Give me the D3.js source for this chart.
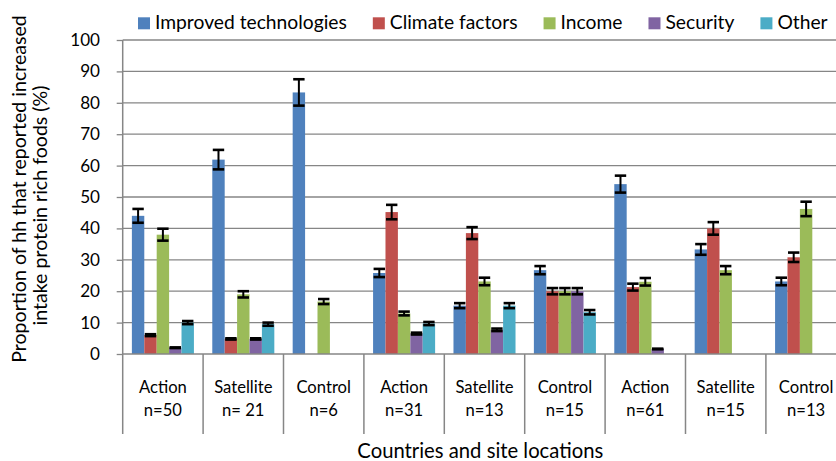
<!DOCTYPE html>
<html>
<head>
<meta charset="utf-8">
<script src="https://cdn.jsdelivr.net/npm/d3@7"></script>
<style>
  html, body { margin: 0; padding: 0; background: #fff; }
  svg { display: block; font-family: Lato, "Open Sans", sans-serif; }
</style>
</head>
<body>
<script>
// ---------------- DATA ----------------
const siteLabels   = ["Action", "Satellite", "Control", "Action", "Satellite", "Control", "Action", "Satellite", "Control"];
const sampleLabels = ["n=50", "n= 21", "n=6", "n=31", "n=13", "n=15", "n=61", "n=15", "n=13"];
const seriesNames  = ["Improved technologies", "Climate factors", "Income", "Security", "Other"];
const seriesColors = ["#4F81BD", "#C0504D", "#9BBB59", "#8064A2", "#4BACC6"];

const improvedValues = [44.0, 61.9, 83.3, 25.8, 15.4, 26.7, 54.1, 33.3, 23.1];
const climateValues  = [6.0, 4.8, null, 45.2, 38.5, 20.0, 21.3, 40.0, 30.8];
const incomeValues   = [38.0, 19.0, 16.7, 12.9, 23.1, 20.0, 23.0, 26.7, 46.2];
const securityValues = [2.0, 4.8, null, 6.5, 7.7, 20.0, 1.6, null, null];
const otherValues    = [10.0, 9.5, null, 9.7, 15.4, 13.3, null, null, null];

const improvedErrors = [2.2, 3.1, 4.2, 1.3, 0.8, 1.3, 2.7, 1.7, 1.2];
const climateErrors  = [0.3, 0.2, null, 2.3, 1.9, 1.0, 1.1, 2.0, 1.5];
const incomeErrors   = [1.9, 1.0, 0.8, 0.6, 1.2, 1.0, 1.2, 1.3, 2.3];
const securityErrors = [0.1, 0.2, null, 0.3, 0.4, 1.0, 0.1, null, null];
const otherErrors    = [0.5, 0.5, null, 0.5, 0.8, 0.7, null, null, null];

const yTicks = [0, 10, 20, 30, 40, 50, 60, 70, 80, 90, 100];
const yTitleLines = ["Proportion of hh that reported increased", "intake protein rich foods (%)"];
const xTitle = "Countries and site locations";

// ---------------- BUILD ----------------
const seriesValues = [improvedValues, climateValues, incomeValues, securityValues, otherValues];
const seriesErrors = [improvedErrors, climateErrors, incomeErrors, securityErrors, otherErrors];
const categories = siteLabels.map((s, i) => i);

const W = 836, H = 461;
const plotLeft = 122.7, catW = 80.4;
const plotTop = 40, plotBottom = 354;

const svg = d3.select("body").append("svg").attr("width", W).attr("height", H);

const x0 = d3.scaleBand().domain(categories).range([plotLeft, plotLeft + catW * categories.length]).paddingInner(0).paddingOuter(0);
const x1 = d3.scaleBand().domain(d3.range(seriesNames.length)).range([0, x0.bandwidth()]).paddingInner(0).paddingOuter(0.74);
const y = d3.scaleLinear().domain([0, 100]).range([plotBottom, plotTop]);

const axisColor = "#868686";

function fit(sel, target, base) {
  sel.attr("font-size", base);
  const w = sel.node().getComputedTextLength();
  const s = base * target / w;
  sel.attr("font-size", s);
  return s;
}

// gridlines
svg.append("g").selectAll("line").data(yTicks.filter(t => t > 0)).join("line")
  .attr("x1", plotLeft).attr("x2", W + 20)
  .attr("y1", d => y(d)).attr("y2", d => y(d))
  .attr("stroke", axisColor).attr("stroke-width", 1.3);

// bars
const groups = svg.append("g").selectAll("g").data(categories).join("g")
  .attr("transform", d => `translate(${x0(d)},0)`);

groups.selectAll("rect").data(ci => seriesNames.map((n, si) => ({si, v: seriesValues[si][ci]})).filter(d => d.v != null))
  .join("rect")
  .attr("x", d => x1(d.si)).attr("width", x1.bandwidth())
  .attr("y", d => y(d.v)).attr("height", d => y(0) - y(d.v))
  .attr("fill", d => seriesColors[d.si]);

// error bars
const eb = groups.selectAll("g.err").data(ci => seriesNames.map((n, si) => ({si, v: seriesValues[si][ci], e: seriesErrors[si][ci]})).filter(d => d.v != null && d.e != null))
  .join("g").attr("class", "err");
eb.append("line")
  .attr("x1", d => x1(d.si) + x1.bandwidth() / 2).attr("x2", d => x1(d.si) + x1.bandwidth() / 2)
  .attr("y1", d => y(d.v + d.e)).attr("y2", d => y(d.v - d.e))
  .attr("stroke", "#000").attr("stroke-width", 2);
eb.selectAll("line.cap").data(d => [d.v + d.e, d.v - d.e].map(val => ({si: d.si, val}))).join("line").attr("class", "cap")
  .attr("x1", d => x1(d.si) + 0.5).attr("x2", d => x1(d.si) + x1.bandwidth() - 0.5)
  .attr("y1", d => y(d.val)).attr("y2", d => y(d.val))
  .attr("stroke", "#000").attr("stroke-width", 2.6);

// y axis
const yAxis = svg.append("g").attr("transform", `translate(${plotLeft},0)`)
  .call(d3.axisLeft(y).tickValues(yTicks).tickSize(6).tickPadding(16.7).tickFormat(d3.format("d")));
yAxis.select(".domain").remove();
yAxis.selectAll(".tick line").attr("stroke", axisColor).attr("stroke-width", 1.3);
yAxis.selectAll(".tick text").attr("fill", "#000").attr("font-family", "Lato, sans-serif");
svg.append("line").attr("x1", plotLeft).attr("x2", plotLeft).attr("y1", plotTop).attr("y2", 434)
  .attr("stroke", axisColor).attr("stroke-width", 1.5);

// x axis line
svg.append("line").attr("x1", plotLeft).attr("x2", W + 20).attr("y1", plotBottom).attr("y2", plotBottom)
  .attr("stroke", axisColor).attr("stroke-width", 1.5);

// category separators
svg.append("g").selectAll("line").data(categories.slice(1).concat([categories.length])).join("line")
  .attr("x1", d => plotLeft + catW * d).attr("x2", d => plotLeft + catW * d)
  .attr("y1", plotBottom).attr("y2", 434)
  .attr("stroke", axisColor).attr("stroke-width", 1.5);

// category labels
const catG = svg.append("g").attr("text-anchor", "middle").attr("fill", "#000");
const l1 = catG.selectAll("text.l1").data(categories).join("text").attr("class", "l1")
  .attr("x", d => x0(d) + x0.bandwidth() / 2).attr("y", 393.3).text(d => siteLabels[d]);
const l2 = catG.selectAll("text.l2").data(categories).join("text").attr("class", "l2")
  .attr("x", d => x0(d) + x0.bandwidth() / 2).attr("y", 415.5).text(d => sampleLabels[d]);
const catSize = fit(l1.filter((d, i) => i === 1), 58.3, 17);
l1.attr("font-size", catSize); l2.attr("font-size", catSize);
yAxis.selectAll(".tick text").attr("font-size", catSize * 1.03);

// x title
const xt = svg.append("text").attr("x", 480.3).attr("y", 457.5).attr("text-anchor", "middle").text(xTitle);
fit(xt, 246, 20);

// y title: one common size, each line centred where the reference has it
const yt1 = svg.append("text").attr("transform", "translate(26,189) rotate(-90)").attr("text-anchor", "middle").text(yTitleLines[0]);
const yt2 = svg.append("text").attr("transform", "translate(47,205.5) rotate(-90)").attr("text-anchor", "middle").text(yTitleLines[1]);
const ys = fit(yt1, 348, 18);
yt2.attr("font-size", ys);

// legend
const legend = svg.append("g");
let lx = 138;
let legSize = null;
seriesNames.forEach((name, i) => {
  legend.append("rect").attr("x", lx).attr("y", 17.3).attr("width", 12).attr("height", 12).attr("fill", seriesColors[i]);
  const t = legend.append("text").attr("x", lx + 17).attr("y", 29.3).text(name);
  if (legSize === null) legSize = fit(t, 192, 20); else t.attr("font-size", legSize);
  lx += 17 + t.node().getComputedTextLength() + 26;
});
</script>
</body>
</html>
